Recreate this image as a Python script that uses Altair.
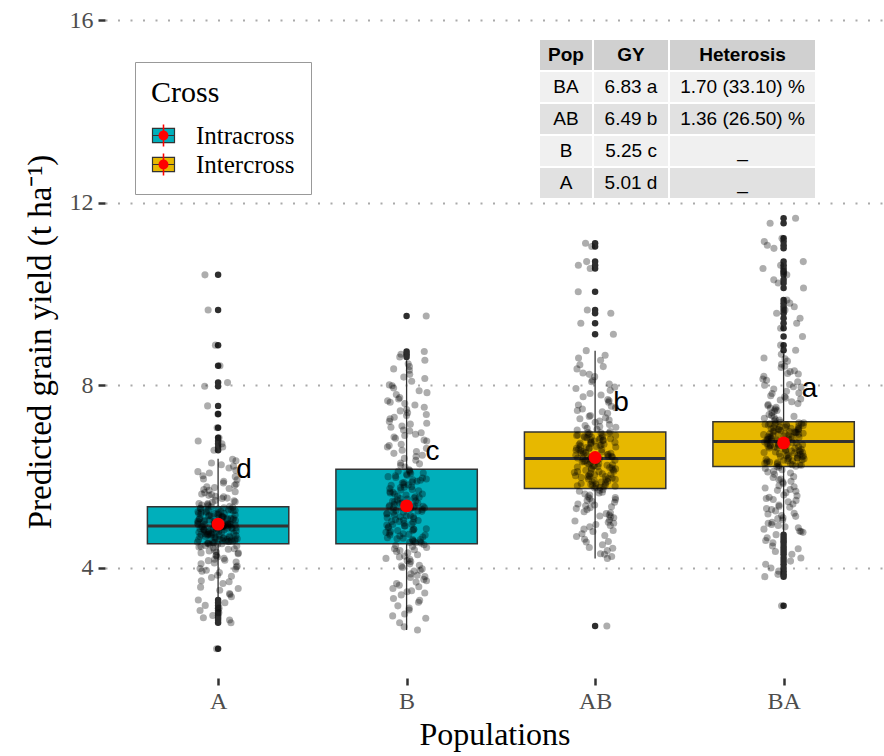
import altair as alt
import pandas as pd

# ---------------------------------------------------------------- data
populations = ["A", "B", "AB", "BA"]
cross_type = ["Intracross", "Intracross", "Intercross", "Intercross"]

# box-plot summaries (t/ha)
q1 = [4.53, 4.53, 5.74, 6.22]
median = [4.92, 5.29, 6.40, 6.77]
q3 = [5.34, 6.16, 6.98, 7.20]
whisker_lo = [3.33, 2.64, 4.21, 4.77]
whisker_hi = [6.39, 8.55, 8.76, 8.70]
pop_mean = [4.96, 5.36, 6.42, 6.74]
group_letter = ["d", "c", "b", "a"]

# predicted grain yield of the individual genotypes
yield_A = [
    10.42, 9.65, 8.88, 8.43, 8.06, 7.98, 7.55, 7.37, 7.07, 6.85, 6.78, 6.72, 6.65, 6.58,
    6.38, 6.30, 6.26, 6.19, 6.11, 6.08, 6.02, 5.95, 5.93, 5.86, 5.84, 5.78, 5.74, 5.72,
    5.67, 5.65, 5.61, 5.57, 5.56, 5.52, 5.48, 5.47, 5.44, 5.41, 5.39, 5.36, 5.35,
    5.33, 5.32, 5.31, 5.29, 5.28, 5.27, 5.26, 5.24, 5.23, 5.22, 5.21, 5.19, 5.18, 5.17,
    5.16, 5.15, 5.13, 5.12, 5.11, 5.10, 5.09, 5.08, 5.07, 5.06, 5.05, 5.04, 5.03, 5.02,
    5.01, 5.00, 4.99, 4.98, 4.98, 4.97, 4.96, 4.96, 4.95, 4.95, 4.94, 4.94, 4.93, 4.93,
    4.92, 4.92, 4.91, 4.91, 4.90, 4.89, 4.89, 4.88, 4.87, 4.86, 4.85, 4.85, 4.84, 4.83,
    4.82, 4.81, 4.80, 4.79, 4.78, 4.77, 4.76, 4.75, 4.74, 4.73, 4.72, 4.71, 4.70, 4.69,
    4.68, 4.67, 4.66, 4.65, 4.64, 4.63, 4.62, 4.61, 4.60, 4.59, 4.58, 4.57, 4.56, 4.55,
    4.54, 4.54, 4.53, 4.51, 4.49, 4.47, 4.44, 4.42, 4.39, 4.37, 4.33, 4.31, 4.27, 4.24,
    4.21, 4.17, 4.13, 4.09, 4.04, 3.99, 3.95, 3.90, 3.84, 3.79, 3.72, 3.66, 3.58, 3.51,
    3.44, 3.37, 3.30, 3.24, 3.18, 3.12, 3.07, 3.02, 2.96, 2.91, 2.86, 2.80, 2.23,
    5.38, 5.30, 5.25, 5.20, 5.14, 5.09, 5.04, 4.99, 4.95, 4.90, 4.86, 4.81, 4.76, 4.72,
    4.67, 4.62, 4.58, 4.53, 5.34, 5.27, 5.22, 5.16, 5.11, 5.06, 5.01, 4.97, 4.93, 4.88,
    4.84, 4.79, 4.74, 4.69, 4.65, 4.60, 4.56, 4.52, 5.45, 5.53, 5.62, 5.70, 5.81, 5.90,
    6.00, 6.14, 6.23, 6.35, 4.48, 4.41, 4.35, 4.28, 4.19, 4.11, 4.02, 3.93, 3.82, 3.70,
    3.55, 3.42, 5.02, 4.97, 4.91, 4.86, 4.80, 4.74, 4.70, 5.13, 5.19, 5.24, 5.08, 4.63,
    4.58, 5.41, 5.59, 5.76, 4.46, 4.33, 4.16, 3.97,
]
yield_B = [
    9.52, 8.74, 8.68, 8.62,
    8.55, 8.47, 8.41, 8.33, 8.24, 8.18, 8.09, 8.01, 7.94, 7.88, 7.80, 7.73, 7.66, 7.60,
    7.52, 7.47, 7.40, 7.34, 7.27, 7.21, 7.15, 7.08, 7.02, 6.96, 6.90, 6.84, 6.78, 6.71,
    6.65, 6.58, 6.51, 6.44, 6.36, 6.28, 6.21,
    6.15, 6.13, 6.10, 6.08, 6.05, 6.03, 6.00, 5.98, 5.95, 5.93, 5.90, 5.88, 5.86, 5.83,
    5.81, 5.78, 5.76, 5.74, 5.71, 5.69, 5.67, 5.64, 5.62, 5.60, 5.57, 5.55, 5.53, 5.51,
    5.49, 5.47, 5.45, 5.43, 5.41, 5.39, 5.37, 5.36, 5.34, 5.33, 5.31, 5.30,
    5.28, 5.26, 5.24, 5.22, 5.20, 5.18, 5.16, 5.14, 5.12, 5.10, 5.08, 5.06, 5.04, 5.02,
    5.00, 4.98, 4.96, 4.94, 4.92, 4.90, 4.88, 4.86, 4.84, 4.82, 4.80, 4.78, 4.76, 4.74,
    4.72, 4.70, 4.68, 4.66, 4.64, 4.62, 4.60, 4.58, 4.56, 4.54,
    4.51, 4.47, 4.42, 4.38, 4.33, 4.29, 4.24, 4.19, 4.14, 4.09, 4.04, 3.98, 3.93, 3.87,
    3.81, 3.75, 3.69, 3.62, 3.55, 3.48, 3.41, 3.33, 3.25, 3.17, 3.08, 2.99, 2.90, 2.80,
    2.71, 2.64,
    6.12, 6.02, 5.92, 5.82, 5.72, 5.62, 5.52, 5.42, 5.32, 5.22, 5.12, 5.02, 4.92, 4.82,
    4.72, 4.62, 4.55, 6.07, 5.97, 5.87, 5.77, 5.66, 5.56, 5.46, 5.35, 5.25, 5.15, 5.05,
    4.95, 4.85, 4.75, 4.65, 4.57, 6.30, 6.47, 6.62, 6.80, 6.93, 7.11, 7.30, 7.44, 7.57,
    7.70, 7.84, 7.99, 8.15, 8.36, 4.45, 4.36, 4.26, 4.16, 4.06, 3.95, 3.84, 3.72, 3.59,
    3.45, 3.29, 3.12, 2.95, 6.25, 6.40, 6.55, 6.68, 6.87, 7.00, 7.17, 7.36, 7.63, 4.49,
    4.40, 4.21, 4.01, 3.79, 3.66, 3.50,
]
yield_AB = [
    11.11, 11.04, 10.71, 10.63, 10.56, 10.05, 9.65, 9.58, 9.36, 9.12,
    8.76, 8.66, 8.55, 8.45, 8.36, 8.27, 8.19, 8.11, 8.03, 7.96, 7.89, 7.82, 7.75, 7.69,
    7.63, 7.57, 7.51, 7.45, 7.39, 7.34, 7.29, 7.24, 7.19, 7.14, 7.10, 7.06, 7.02, 6.99,
    6.97, 6.96, 6.94, 6.93, 6.91, 6.90, 6.88, 6.87, 6.85, 6.84, 6.82, 6.81, 6.79, 6.78,
    6.76, 6.74, 6.73, 6.71, 6.70, 6.68, 6.66, 6.65, 6.63, 6.62, 6.60, 6.58, 6.57, 6.55,
    6.54, 6.52, 6.50, 6.49, 6.47, 6.46, 6.45, 6.44, 6.43, 6.42, 6.41, 6.40,
    6.39, 6.37, 6.36, 6.34, 6.33, 6.31, 6.29, 6.28, 6.26, 6.24, 6.23, 6.21, 6.19, 6.18,
    6.16, 6.14, 6.12, 6.11, 6.09, 6.07, 6.05, 6.04, 6.02, 6.00, 5.98, 5.97, 5.95, 5.93,
    5.91, 5.89, 5.88, 5.86, 5.84, 5.82, 5.80, 5.79, 5.77, 5.75,
    5.72, 5.68, 5.64, 5.60, 5.56, 5.52, 5.48, 5.44, 5.40, 5.36, 5.32, 5.28, 5.23, 5.19,
    5.14, 5.10, 5.05, 5.00, 4.95, 4.90, 4.85, 4.80, 4.75, 4.69, 4.63, 4.57, 4.51, 4.45,
    4.38, 4.31, 4.25, 4.21, 2.73,
    6.95, 6.90, 6.86, 6.80, 6.75, 6.69, 6.64, 6.59, 6.53, 6.48, 6.43, 6.38, 6.32, 6.27,
    6.22, 6.17, 6.11, 6.06, 6.01, 5.96, 5.90, 5.85, 5.81, 5.76, 6.92, 6.83, 6.72, 6.61,
    6.51, 6.41, 6.35, 6.25, 6.15, 6.03, 5.94, 5.83, 7.04, 7.12, 7.22, 7.32, 7.42, 7.54,
    7.66, 7.79, 7.93, 8.08, 8.24, 8.41, 8.60, 5.70, 5.62, 5.54, 5.46, 5.38, 5.30, 5.21,
    5.12, 5.03, 4.93, 4.82, 4.71, 4.58, 4.43, 4.30, 6.88, 6.67, 6.44, 6.20, 6.00, 5.78,
    7.08, 7.27, 7.48, 5.66, 5.50, 5.34, 5.16, 4.98,
]
yield_BA = [
    11.66, 11.55, 11.22, 11.15, 11.07, 11.00, 10.71, 10.63, 10.56, 10.49, 10.42, 10.31,
    10.24, 10.13, 9.87, 9.80, 9.72, 9.65, 9.58, 9.47, 9.36, 9.25, 9.07, 8.88, 8.77,
    8.68, 8.60, 8.53, 8.46, 8.39, 8.32, 8.26, 8.20, 8.14, 8.08, 8.02, 7.97, 7.92, 7.87,
    7.82, 7.77, 7.72, 7.68, 7.64, 7.60, 7.56, 7.52, 7.48, 7.44, 7.40, 7.36, 7.32, 7.28,
    7.25, 7.22,
    7.19, 7.18, 7.17, 7.16, 7.15, 7.14, 7.13, 7.12, 7.11, 7.10, 7.08, 7.07, 7.06, 7.05,
    7.04, 7.03, 7.02, 7.01, 7.00, 6.99, 6.98, 6.97, 6.96, 6.95, 6.94, 6.93, 6.92, 6.90,
    6.89, 6.88, 6.87, 6.86, 6.85, 6.84, 6.83, 6.82, 6.81, 6.80, 6.79, 6.78,
    6.76, 6.75, 6.73, 6.72, 6.70, 6.69, 6.68, 6.66, 6.65, 6.63, 6.62, 6.60, 6.59, 6.57,
    6.56, 6.55, 6.53, 6.52, 6.50, 6.49, 6.47, 6.46, 6.44, 6.43, 6.41, 6.40, 6.38, 6.37,
    6.35, 6.34, 6.32, 6.31, 6.29, 6.28, 6.26, 6.25, 6.24, 6.23,
    6.20, 6.15, 6.10, 6.05, 6.00, 5.95, 5.90, 5.85, 5.80, 5.75, 5.70, 5.65, 5.60, 5.55,
    5.50, 5.45, 5.40, 5.35, 5.30, 5.25, 5.20, 5.15, 5.10, 5.05, 5.00, 4.95, 4.90, 4.85,
    4.81, 4.78,
    4.73, 4.66, 4.60, 4.55, 4.48, 4.42, 4.36, 4.30, 4.22, 4.15, 4.08, 4.00, 3.93, 3.86,
    3.81, 3.17,
    7.18, 7.14, 7.09, 7.04, 6.99, 6.95, 6.91, 6.86, 6.82, 6.78, 6.74, 6.70, 6.66, 6.61,
    6.57, 6.53, 6.48, 6.44, 6.39, 6.35, 6.31, 6.26, 6.22, 7.16, 7.06, 6.97, 6.88, 6.79,
    6.71, 6.63, 6.54, 6.45, 6.36, 6.28, 7.24, 7.34, 7.45, 7.58, 7.70, 7.83, 7.96, 8.11,
    8.25, 8.42, 8.58, 6.18, 6.08, 5.98, 5.88, 5.78, 5.68, 5.58, 5.48, 5.38, 5.28, 5.18,
    5.08, 4.98, 4.88, 4.80, 7.30, 7.50, 7.75, 8.00, 8.30, 6.12, 5.93, 5.72, 5.52, 5.33,
    5.13, 4.93, 6.93, 6.67, 6.41,
]

# inset summary table
table_header = ["Pop", "GY", "Heterosis"]
table_pop = ["BA", "AB", "B", "A"]
table_gy = ["6.83 a", "6.49 b", "5.25 c", "5.01 d"]
table_heterosis = ["1.70 (33.10) %", "1.36 (26.50) %", "_", "_"]

# ---------------------------------------------------------------- layout / style
SERIF = "Liberation Serif"
SANS = "Liberation Sans"
PLOT_W, PLOT_H = 779, 673
X_DOMAIN = [0.4, 4.5326]
Y_DOMAIN = [1.59, 16.33]
BOX_HALF = 0.375
JITTER_W = 0.22
FILL_COLORS = ["#00AFBB", "#E7B800"]
TABLE_COL_W = [52, 74, 145]
TABLE_GAP = 2
TABLE_X_RANGE = [435, 710]
TABLE_Y_RANGE = [35, 193]
LEGEND_X, LEGEND_Y = 30, 57
LEGEND_PAD, LEGEND_TITLE_SIZE, LEGEND_TITLE_PAD = 16, 30, 15

# ---------------------------------------------------------------- frames
stats = pd.DataFrame({
    "pop": populations,
    "idx": [1, 2, 3, 4],
    "cross": cross_type,
    "cross_key": [c + " " for c in cross_type],
    "q1": q1, "med": median, "q3": q3,
    "lo": whisker_lo, "hi": whisker_hi,
    "mean": pop_mean, "letter": group_letter,
})

groups = {"A": yield_A, "B": yield_B, "AB": yield_AB, "BA": yield_BA}
rows = []
for k, p in enumerate(populations):
    for i, v in enumerate(groups[p]):
        rows.append({"pop": p, "idx": k + 1, "i": i, "value": v})
points = pd.DataFrame(rows)

col_x0, acc = [], 0
for w in TABLE_COL_W:
    col_x0.append(acc)
    acc += w + TABLE_GAP
table_total = acc - TABLE_GAP
body = [table_pop, table_gy, table_heterosis]
cells = []
for c in range(3):
    x0 = col_x0[c]
    x1 = x0 + TABLE_COL_W[c]
    cells.append({"row": 0, "x0": x0, "x1": x1, "xc": (x0 + x1) / 2,
                  "label": table_header[c], "shade": "#d0d0d0", "head": True})
    for r in range(4):
        cells.append({"row": r + 1, "x0": x0, "x1": x1, "xc": (x0 + x1) / 2,
                      "label": body[c][r],
                      "shade": "#f0f0f0" if r % 2 == 0 else "#e1e1e1",
                      "head": False})
table = pd.DataFrame(cells)

# ---------------------------------------------------------------- scales & axes
x_scale = alt.Scale(domain=X_DOMAIN, nice=False, zero=False)
y_scale = alt.Scale(domain=Y_DOMAIN, nice=False, zero=False)
label_expr = "[''," + ",".join(f"'{p}'" for p in populations) + "][datum.value]"

x_axis = alt.Axis(
    values=[1, 2, 3, 4], labelExpr=label_expr, title="Populations",
    grid=False, domain=False, tickColor="#333333", tickSize=7, tickWidth=2.5,
    labelFont=SERIF, labelFontSize=24, labelColor="#4d4d4d", labelPadding=4,
    titleFont=SERIF, titleFontSize=32, titleFontWeight="normal",
    titleColor="black", titlePadding=6,
)
y_axis = alt.Axis(
    values=[4, 8, 12, 16], title="Predicted grain yield (t ha\u207b\u00b9)",
    grid=True, gridDash=[2, 10.5], gridColor="#aaaaaa", gridWidth=2,
    domain=False, tickColor="#333333", tickSize=7, tickWidth=2.5,
    labelFont=SERIF, labelFontSize=24, labelColor="#4d4d4d", labelPadding=5,
    titleFont=SERIF, titleFontSize=33, titleFontWeight="normal",
    titleColor="black", titlePadding=12,
)


def X(field):
    return alt.X(field, scale=x_scale, axis=x_axis)


def Y(field):
    return alt.Y(field, scale=y_scale, axis=y_axis)


legend_common = dict(
    orient="none", legendX=LEGEND_X,
    labelFont=SERIF, labelFontSize=25, labelOffset=20, symbolSize=484,
    rowPadding=3, padding=LEGEND_PAD,
)
box_glyph = "M-1,-0.65H1V0.65H-1Z M-1,0H1"
dot_glyph = ("M-0.07,-1H0.07V1H-0.07Z "
             "M0.45,0A0.45,0.45,0,1,1,-0.45,0A0.45,0.45,0,1,1,0.45,0Z")

# ---------------------------------------------------------------- layers
whiskers = alt.Chart(stats).mark_rule(color="#333333", strokeWidth=1.3).encode(
    x=X("idx:Q"), y=Y("lo:Q"), y2="hi:Q")

boxes = alt.Chart(stats).transform_calculate(
    x0=f"datum.idx - {BOX_HALF}", x1=f"datum.idx + {BOX_HALF}"
).mark_rect(stroke="#333333", strokeWidth=1.5).encode(
    x=X("x0:Q"), x2="x1:Q", y=Y("q1:Q"), y2="q3:Q",
    fill=alt.Fill("cross:N",
                  scale=alt.Scale(domain=["Intracross", "Intercross"], range=FILL_COLORS),
                  legend=alt.Legend(**legend_common, legendY=LEGEND_Y, title="Cross",
                                    titleFont=SERIF, titleFontSize=LEGEND_TITLE_SIZE,
                                    titleFontWeight="normal", titlePadding=LEGEND_TITLE_PAD,
                                    strokeColor="#999999",
                                    fillColor="white", titleColor="black",
                                    labelColor="black", symbolType=box_glyph,
                                    symbolStrokeColor="#333333",
                                    symbolStrokeWidth=1.2, symbolOpacity=1)),
)

medians = alt.Chart(stats).transform_calculate(
    x0=f"datum.idx - {BOX_HALF}", x1=f"datum.idx + {BOX_HALF}"
).mark_rule(color="#333333", strokeWidth=3).encode(
    x=X("x0:Q"), x2="x1:Q", y=Y("med:Q"))

outliers = alt.Chart(points).transform_lookup(
    lookup="pop", from_=alt.LookupData(stats, key="pop", fields=["lo", "hi"])
).transform_filter(
    "datum.value > datum.hi || datum.value < datum.lo"
).mark_circle(size=42, color="#2e2e2e", opacity=1).encode(
    x=X("idx:Q"), y=Y("value:Q"))

jitter = alt.Chart(points).transform_calculate(
    jx=f"datum.idx + {JITTER_W} * ((abs(sin(datum.i * 12.9898 + datum.idx * 78.233)) * 43758.5453) % 1 - 0.5)"
).mark_circle(size=50, color="black", opacity=0.32).encode(
    x=X("jx:Q"), y=Y("value:Q"))

means = alt.Chart(stats).mark_circle(size=165, color="#ff0000", opacity=1).encode(
    x=X("idx:Q"), y=Y("mean:Q"))

letters = alt.Chart(stats).mark_text(
    font=SANS, fontSize=28, dx=26, dy=-54, color="black"
).encode(x=X("idx:Q"), y=Y("mean:Q"), text="letter:N")

# mean-point glyph laid over the fill legend keys (no title, no labels)
mean_key = alt.Chart(stats).mark_point(
    filled=True, color="#ff0000", size=0
).encode(
    x=X("idx:Q"), y=Y("mean:Q"),
    shape=alt.Shape("cross_key:N",
                    scale=alt.Scale(domain=[c + " " for c in ["Intracross", "Intercross"]],
                                    range=[dot_glyph, dot_glyph]),
                    legend=alt.Legend(**legend_common,
                                      legendY=LEGEND_Y + LEGEND_TITLE_SIZE + LEGEND_TITLE_PAD,
                                      title=None, labelExpr="''",
                                      symbolFillColor="#ff0000",
                                      symbolStrokeWidth=0, symbolOpacity=1)),
)

main = alt.layer(whiskers, boxes, medians, outliers, jitter, means, letters, mean_key)

# inset table
t_xscale = alt.Scale(domain=[0, table_total], range=TABLE_X_RANGE)
ty = alt.Y("row:O", scale=alt.Scale(domain=[0, 1, 2, 3, 4], range=TABLE_Y_RANGE,
                                     paddingInner=0.0625, paddingOuter=0), axis=None)
t_cells = alt.Chart(table).mark_rect().encode(
    x=alt.X("x0:Q", scale=t_xscale, axis=None), x2="x1:Q", y=ty,
    fill=alt.Fill("shade:N", scale=None))
t_head = alt.Chart(table).transform_filter("datum.head").mark_text(
    font=SANS, fontSize=19, fontWeight="bold", color="black"
).encode(x=alt.X("xc:Q", scale=t_xscale, axis=None), y=ty, text="label:N")
t_body = alt.Chart(table).transform_filter("!datum.head").mark_text(
    font=SANS, fontSize=19, color="black"
).encode(x=alt.X("xc:Q", scale=t_xscale, axis=None), y=ty, text="label:N")
inset = alt.layer(t_cells, t_head, t_body)

chart = alt.layer(main, inset).resolve_scale(
    x="independent", y="independent"
).properties(
    width=PLOT_W, height=PLOT_H,
    autosize=alt.AutoSizeParams(type="none"),
    padding={"left": 105, "top": 5, "right": 0, "bottom": 78},
    background="white",
).configure_view(stroke=None)

chart.save("out.html", embed_options={"renderer": "svg", "actions": False})
